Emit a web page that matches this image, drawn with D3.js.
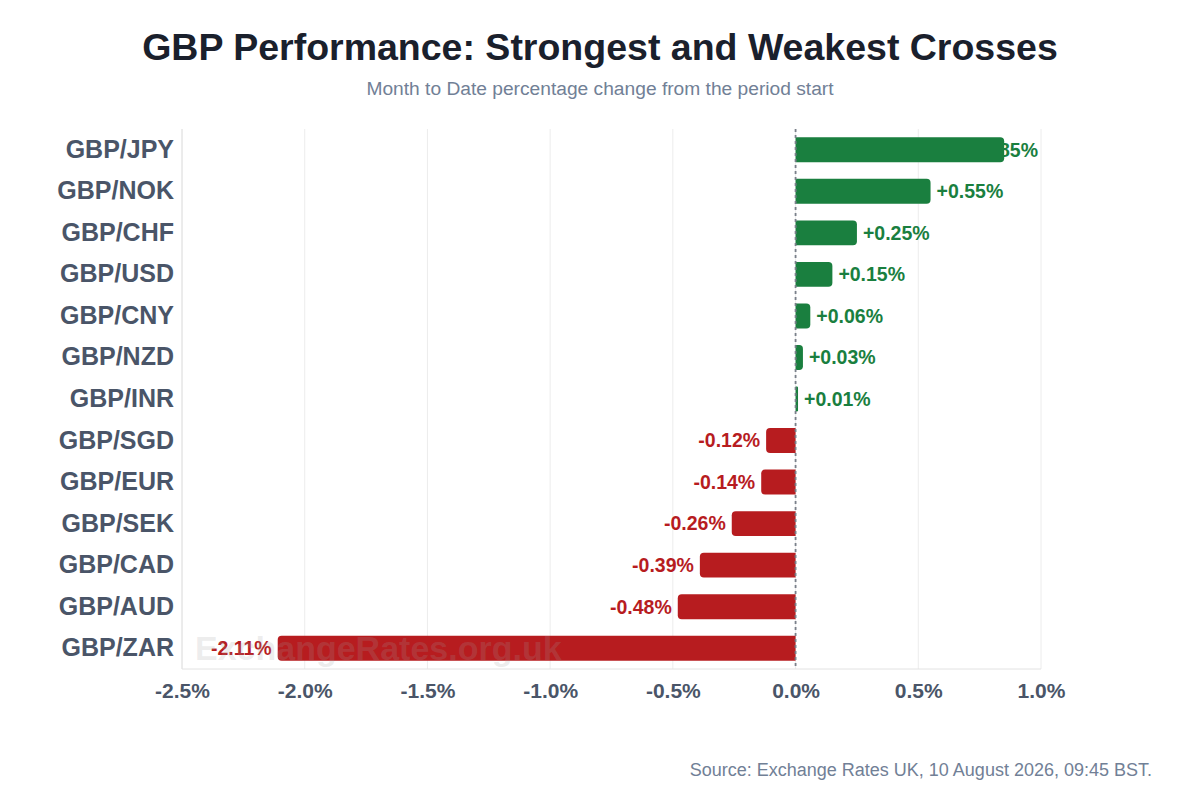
<!DOCTYPE html>
<html>
<head>
<meta charset="utf-8">
<script src="https://cdn.jsdelivr.net/npm/d3@7.9.0/dist/d3.min.js"></script>
<style>
  body { margin: 0; background: #fff; }
  svg { display: block; font-family: "Liberation Sans", Arial, Helvetica, sans-serif; }
</style>
</head>
<body>
<svg id="chart" width="1200" height="800"></svg>
<script>
// data
const pairs = ['GBP/JPY', 'GBP/NOK', 'GBP/CHF', 'GBP/USD', 'GBP/CNY', 'GBP/NZD', 'GBP/INR',
               'GBP/SGD', 'GBP/EUR', 'GBP/SEK', 'GBP/CAD', 'GBP/AUD', 'GBP/ZAR'];
const changes = [0.85, 0.55, 0.25, 0.15, 0.06, 0.03, 0.01,
                 -0.12, -0.14, -0.26, -0.39, -0.48, -2.11];
const xTicks = [-2.5, -2.0, -1.5, -1.0, -0.5, 0.0, 0.5, 1.0];

const data = pairs.map((p, i) => ({ pair: p, value: changes[i] }));

const width = 1200, height = 800;
const margin = { top: 129, right: 159, bottom: 131, left: 182 };
const green = '#1a7f3f', red = '#b71c1f';

// plain hyphen, not the unicode minus d3.format gives
const pct = (v, digits, sign) =>
  (v < 0 ? '-' : (sign && v >= 0 ? '+' : '')) + Math.abs(v).toFixed(digits) + '%';

const svg = d3.select('#chart');

const x = d3.scaleLinear()
  .domain([-2.5, 1.0])
  .range([margin.left, width - margin.right]);

const y = d3.scaleBand()
  .domain(pairs)
  .range([margin.top, height - margin.bottom])
  .paddingInner(0.4)
  .paddingOuter(0.2);

// title + subtitle
svg.append('text')
  .attr('x', width / 2).attr('y', 60)
  .attr('text-anchor', 'middle')
  .attr('font-size', 37.5).attr('font-weight', 'bold')
  .attr('fill', '#1a202c')
  .text('GBP Performance: Strongest and Weakest Crosses');

svg.append('text')
  .attr('x', width / 2).attr('y', 95)
  .attr('text-anchor', 'middle')
  .attr('font-size', 19.2)
  .attr('fill', '#718096')
  .text('Month to Date percentage change from the period start');

// gridlines
svg.append('g')
  .attr('class', 'grid')
  .selectAll('line')
  .data(xTicks)
  .join('line')
  .attr('x1', d => x(d)).attr('x2', d => x(d))
  .attr('y1', margin.top).attr('y2', height - margin.bottom)
  .attr('stroke', '#ececec').attr('stroke-width', 1);

// bottom + left axis lines
svg.append('line')
  .attr('x1', margin.left).attr('x2', width - margin.right)
  .attr('y1', height - margin.bottom).attr('y2', height - margin.bottom)
  .attr('stroke', '#e2e2e2');
svg.append('line')
  .attr('x1', margin.left).attr('x2', margin.left)
  .attr('y1', margin.top).attr('y2', height - margin.bottom)
  .attr('stroke', '#e2e2e2');

// x axis labels
const xAxis = d3.axisBottom(x)
  .tickValues(xTicks)
  .tickSize(0)
  .tickPadding(14)
  .tickFormat(d => pct(d, 1, false));

svg.append('g')
  .attr('transform', `translate(0,${height - margin.bottom})`)
  .call(xAxis)
  .call(g => g.select('.domain').remove())
  .call(g => g.selectAll('text')
    .attr('font-size', 21).attr('font-weight', 'bold')
    .attr('fill', '#4a5568')
    .attr('font-family', '"Liberation Sans", Arial, sans-serif'));

// y axis labels
const yAxis = d3.axisLeft(y).tickSize(0).tickPadding(8);
svg.append('g')
  .attr('transform', `translate(${margin.left},0)`)
  .call(yAxis)
  .call(g => g.select('.domain').remove())
  .call(g => g.selectAll('text')
    .attr('font-size', 25).attr('font-weight', 'bold')
    .attr('fill', '#4a5568')
    .attr('font-family', '"Liberation Sans", Arial, sans-serif'));

// value labels (drawn under the bars, clamped into the plot)
const plotRight = width - margin.right;
const labels = svg.append('g').attr('class', 'labels')
  .selectAll('text')
  .data(data)
  .join('text')
  .attr('y', d => y(d.pair) + y.bandwidth() / 2)
  .attr('dy', '0.35em')
  .attr('font-size', 19.5).attr('font-weight', 'bold')
  .attr('fill', d => d.value >= 0 ? green : red)
  .attr('text-anchor', d => d.value >= 0 ? 'start' : 'end')
  .text(d => pct(d.value, 2, true));

labels.each(function (d) {
  const t = d3.select(this);
  const w = this.getComputedTextLength();
  if (d.value >= 0) {
    t.attr('x', Math.min(x(d.value) + 6, plotRight - 3 - w));
  } else {
    t.attr('x', x(d.value) - 6);
  }
});

// bars with rounded outer end
function barPath(d) {
  const x0 = x(0), x1 = x(d.value);
  const top = y(d.pair), h = y.bandwidth(), bot = top + h;
  const len = Math.abs(x1 - x0);
  const r = Math.min(4, len / 2);
  if (d.value >= 0) {
    return `M${x0},${top}H${x1 - r}Q${x1},${top} ${x1},${top + r}V${bot - r}Q${x1},${bot} ${x1 - r},${bot}H${x0}Z`;
  }
  return `M${x0},${top}H${x1 + r}Q${x1},${top} ${x1},${top + r}V${bot - r}Q${x1},${bot} ${x1 + r},${bot}H${x0}Z`;
}

svg.append('g').attr('class', 'bars')
  .selectAll('path')
  .data(data)
  .join('path')
  .attr('d', barPath)
  .attr('fill', d => d.value >= 0 ? green : red);

// watermark, faint, over the bars
svg.append('text')
  .attr('x', 195).attr('y', y('GBP/ZAR') + y.bandwidth() / 2)
  .attr('dy', '0.35em')
  .attr('font-size', 34).attr('font-weight', 'bold')
  .attr('fill', '#a0a0a0').attr('fill-opacity', 0.2)
  .text('ExchangeRates.org.uk');

// zero line
svg.append('line')
  .attr('x1', x(0)).attr('x2', x(0))
  .attr('y1', margin.top).attr('y2', height - margin.bottom)
  .attr('stroke', '#7a808a').attr('stroke-width', 1.8)
  .attr('stroke-dasharray', '3,3');

// source
svg.append('text')
  .attr('x', 1152).attr('y', 776)
  .attr('text-anchor', 'end')
  .attr('font-size', 18)
  .attr('fill', '#718096')
  .text('Source: Exchange Rates UK, 10 August 2026, 09:45 BST.');
</script>
</body>
</html>
